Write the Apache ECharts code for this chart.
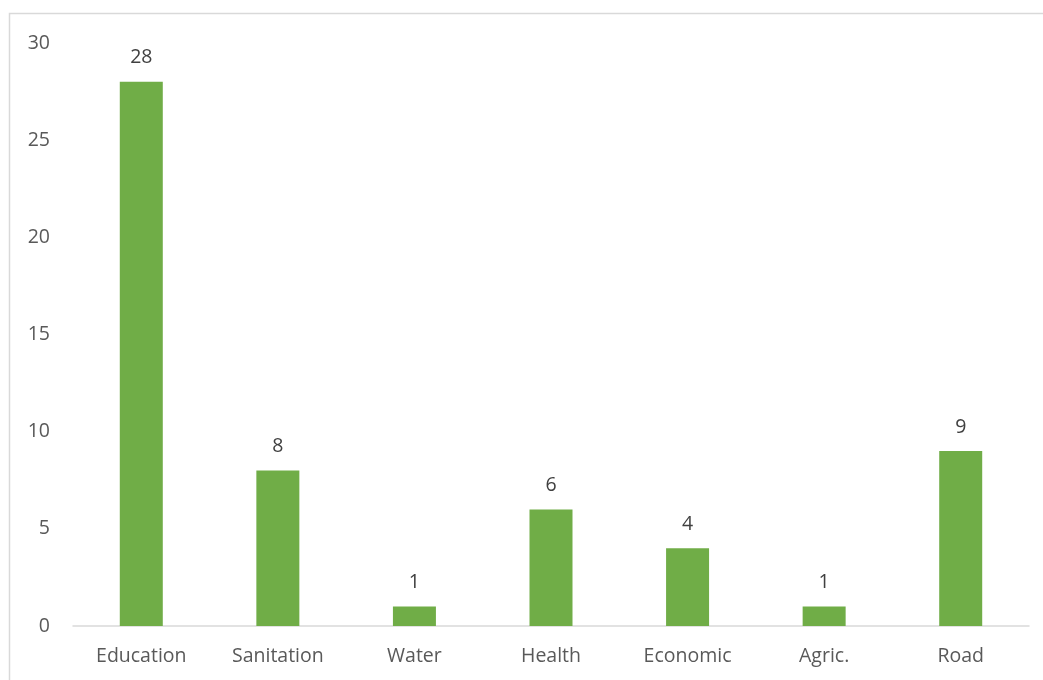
<!DOCTYPE html>
<html><head><meta charset="utf-8">
<script src="https://cdn.jsdelivr.net/npm/echarts@6/dist/echarts.min.js"></script>
<style>html,body{margin:0;padding:0;background:#fff;}#c{width:1043px;height:680px;}</style>
</head><body><div id="c"></div>
<script>
const categories = ['Education','Sanitation','Water','Health','Economic','Agric.','Road'];
const values = [28, 8, 1, 6, 4, 1, 9];
const yTicks = [0, 5, 10, 15, 20, 25, 30];

const chart = echarts.init(document.getElementById('c'), null, {renderer:'canvas'});
const font = '"Open Sans", "Noto Sans", sans-serif';
chart.setOption({
  animation: false,
  backgroundColor: '#fff',
  graphic: [{
    type: 'rect', shape: {x: 9.5, y: 13.5, width: 1100, height: 700},
    style: {fill: 'none', stroke: '#d9d9d9', lineWidth: 1.5}, silent: true, z: -1
  }],
  grid: {left: 73, right: 14, top: 43, bottom: 54, containLabel: false},
  xAxis: {
    type: 'category', data: categories,
    axisLine: {lineStyle: {color: '#d9d9d9', width: 1.5}},
    axisTick: {show: false},
    axisLabel: {color: '#595959', fontSize: 19.5, fontFamily: font, margin: 20}
  },
  yAxis: {
    type: 'value', min: yTicks[0], max: yTicks[yTicks.length-1], interval: 5,
    splitLine: {show: false},
    axisLine: {show: false}, axisTick: {show: false},
    axisLabel: {color: '#595959', fontSize: 19.5, fontFamily: font, margin: 23}
  },
  series: [{
    type: 'bar', data: values, barWidth: 43,
    itemStyle: {color: '#70AD47'},
    label: {show: true, position: 'top', color: '#404040', fontSize: 19.5, fontFamily: font, distance: 14}
  }]
});
</script></body></html>
